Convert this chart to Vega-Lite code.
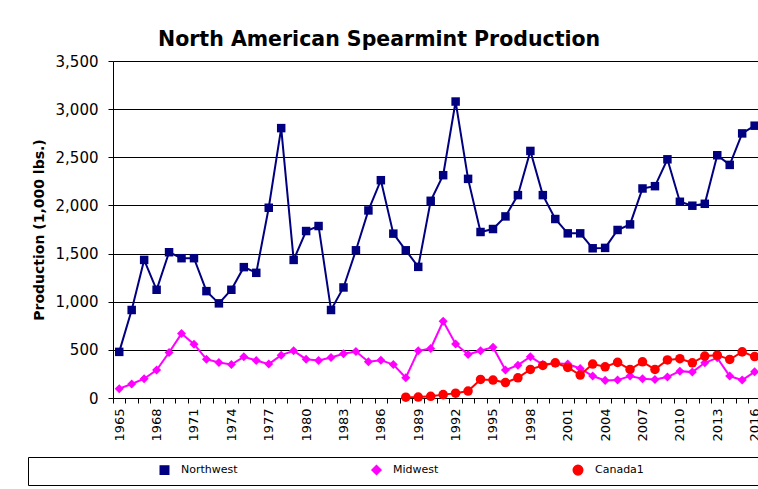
{
  "$schema": "https://vega.github.io/schema/vega-lite/v6.json",
  "autosize": "none",
  "width": 645,
  "height": 337,
  "padding": {"left": 113, "top": 61, "right": 0, "bottom": 91},
  "background": "white",
  "config": {
    "view": {"stroke": null},
    "font": "DejaVu Sans"
  },
  "title": {
    "text": "North American Spearmint Production",
    "font": "DejaVu Sans",
    "fontSize": 20.5,
    "fontWeight": "bold",
    "color": "black",
    "anchor": "start",
    "frame": "group",
    "dx": 45,
    "baseline": "alphabetic",
    "offset": -12
  },
  "data": {
    "values": [
      {"year": 1965, "series": "Northwest", "value": 479},
      {"year": 1966, "series": "Northwest", "value": 914},
      {"year": 1967, "series": "Northwest", "value": 1434},
      {"year": 1968, "series": "Northwest", "value": 1124},
      {"year": 1969, "series": "Northwest", "value": 1514},
      {"year": 1970, "series": "Northwest", "value": 1452},
      {"year": 1971, "series": "Northwest", "value": 1452},
      {"year": 1972, "series": "Northwest", "value": 1110},
      {"year": 1973, "series": "Northwest", "value": 983},
      {"year": 1974, "series": "Northwest", "value": 1124},
      {"year": 1975, "series": "Northwest", "value": 1359},
      {"year": 1976, "series": "Northwest", "value": 1300},
      {"year": 1977, "series": "Northwest", "value": 1976},
      {"year": 1978, "series": "Northwest", "value": 2803},
      {"year": 1979, "series": "Northwest", "value": 1434},
      {"year": 1980, "series": "Northwest", "value": 1734},
      {"year": 1981, "series": "Northwest", "value": 1786},
      {"year": 1982, "series": "Northwest", "value": 914},
      {"year": 1983, "series": "Northwest", "value": 1148},
      {"year": 1984, "series": "Northwest", "value": 1534},
      {"year": 1985, "series": "Northwest", "value": 1948},
      {"year": 1986, "series": "Northwest", "value": 2262},
      {"year": 1987, "series": "Northwest", "value": 1707},
      {"year": 1988, "series": "Northwest", "value": 1534},
      {"year": 1989, "series": "Northwest", "value": 1362},
      {"year": 1990, "series": "Northwest", "value": 2048},
      {"year": 1991, "series": "Northwest", "value": 2314},
      {"year": 1992, "series": "Northwest", "value": 3079},
      {"year": 1993, "series": "Northwest", "value": 2276},
      {"year": 1994, "series": "Northwest", "value": 1724},
      {"year": 1995, "series": "Northwest", "value": 1755},
      {"year": 1996, "series": "Northwest", "value": 1886},
      {"year": 1997, "series": "Northwest", "value": 2107},
      {"year": 1998, "series": "Northwest", "value": 2566},
      {"year": 1999, "series": "Northwest", "value": 2107},
      {"year": 2000, "series": "Northwest", "value": 1859},
      {"year": 2001, "series": "Northwest", "value": 1710},
      {"year": 2002, "series": "Northwest", "value": 1710},
      {"year": 2003, "series": "Northwest", "value": 1555},
      {"year": 2004, "series": "Northwest", "value": 1559},
      {"year": 2005, "series": "Northwest", "value": 1745},
      {"year": 2006, "series": "Northwest", "value": 1803},
      {"year": 2007, "series": "Northwest", "value": 2176},
      {"year": 2008, "series": "Northwest", "value": 2200},
      {"year": 2009, "series": "Northwest", "value": 2479},
      {"year": 2010, "series": "Northwest", "value": 2038},
      {"year": 2011, "series": "Northwest", "value": 1997},
      {"year": 2012, "series": "Northwest", "value": 2017},
      {"year": 2013, "series": "Northwest", "value": 2521},
      {"year": 2014, "series": "Northwest", "value": 2421},
      {"year": 2015, "series": "Northwest", "value": 2748},
      {"year": 2016, "series": "Northwest", "value": 2828},
      {"year": 1965, "series": "Midwest", "value": 97},
      {"year": 1966, "series": "Midwest", "value": 145},
      {"year": 1967, "series": "Midwest", "value": 200},
      {"year": 1968, "series": "Midwest", "value": 290},
      {"year": 1969, "series": "Midwest", "value": 472},
      {"year": 1970, "series": "Midwest", "value": 669},
      {"year": 1971, "series": "Midwest", "value": 559},
      {"year": 1972, "series": "Midwest", "value": 403},
      {"year": 1973, "series": "Midwest", "value": 369},
      {"year": 1974, "series": "Midwest", "value": 348},
      {"year": 1975, "series": "Midwest", "value": 428},
      {"year": 1976, "series": "Midwest", "value": 390},
      {"year": 1977, "series": "Midwest", "value": 352},
      {"year": 1978, "series": "Midwest", "value": 445},
      {"year": 1979, "series": "Midwest", "value": 490},
      {"year": 1980, "series": "Midwest", "value": 403},
      {"year": 1981, "series": "Midwest", "value": 390},
      {"year": 1982, "series": "Midwest", "value": 421},
      {"year": 1983, "series": "Midwest", "value": 459},
      {"year": 1984, "series": "Midwest", "value": 483},
      {"year": 1985, "series": "Midwest", "value": 376},
      {"year": 1986, "series": "Midwest", "value": 393},
      {"year": 1987, "series": "Midwest", "value": 348},
      {"year": 1988, "series": "Midwest", "value": 210},
      {"year": 1989, "series": "Midwest", "value": 490},
      {"year": 1990, "series": "Midwest", "value": 514},
      {"year": 1991, "series": "Midwest", "value": 797},
      {"year": 1992, "series": "Midwest", "value": 562},
      {"year": 1993, "series": "Midwest", "value": 452},
      {"year": 1994, "series": "Midwest", "value": 490},
      {"year": 1995, "series": "Midwest", "value": 528},
      {"year": 1996, "series": "Midwest", "value": 290},
      {"year": 1997, "series": "Midwest", "value": 341},
      {"year": 1998, "series": "Midwest", "value": 428},
      {"year": 1999, "series": "Midwest", "value": 348},
      {"year": 2000, "series": "Midwest", "value": 360},
      {"year": 2001, "series": "Midwest", "value": 352},
      {"year": 2002, "series": "Midwest", "value": 307},
      {"year": 2003, "series": "Midwest", "value": 228},
      {"year": 2004, "series": "Midwest", "value": 183},
      {"year": 2005, "series": "Midwest", "value": 186},
      {"year": 2006, "series": "Midwest", "value": 228},
      {"year": 2007, "series": "Midwest", "value": 200},
      {"year": 2008, "series": "Midwest", "value": 193},
      {"year": 2009, "series": "Midwest", "value": 217},
      {"year": 2010, "series": "Midwest", "value": 279},
      {"year": 2011, "series": "Midwest", "value": 269},
      {"year": 2012, "series": "Midwest", "value": 366},
      {"year": 2013, "series": "Midwest", "value": 417},
      {"year": 2014, "series": "Midwest", "value": 228},
      {"year": 2015, "series": "Midwest", "value": 186},
      {"year": 2016, "series": "Midwest", "value": 272},
      {"year": 1988, "series": "Canada1", "value": 8},
      {"year": 1989, "series": "Canada1", "value": 10},
      {"year": 1990, "series": "Canada1", "value": 18},
      {"year": 1991, "series": "Canada1", "value": 35},
      {"year": 1992, "series": "Canada1", "value": 50},
      {"year": 1993, "series": "Canada1", "value": 72},
      {"year": 1994, "series": "Canada1", "value": 193},
      {"year": 1995, "series": "Canada1", "value": 186},
      {"year": 1996, "series": "Canada1", "value": 160},
      {"year": 1997, "series": "Canada1", "value": 210},
      {"year": 1998, "series": "Canada1", "value": 297},
      {"year": 1999, "series": "Canada1", "value": 338},
      {"year": 2000, "series": "Canada1", "value": 366},
      {"year": 2001, "series": "Canada1", "value": 317},
      {"year": 2002, "series": "Canada1", "value": 238},
      {"year": 2003, "series": "Canada1", "value": 352},
      {"year": 2004, "series": "Canada1", "value": 324},
      {"year": 2005, "series": "Canada1", "value": 370},
      {"year": 2006, "series": "Canada1", "value": 297},
      {"year": 2007, "series": "Canada1", "value": 376},
      {"year": 2008, "series": "Canada1", "value": 297},
      {"year": 2009, "series": "Canada1", "value": 395},
      {"year": 2010, "series": "Canada1", "value": 408},
      {"year": 2011, "series": "Canada1", "value": 366},
      {"year": 2012, "series": "Canada1", "value": 436},
      {"year": 2013, "series": "Canada1", "value": 445},
      {"year": 2014, "series": "Canada1", "value": 400},
      {"year": 2015, "series": "Canada1", "value": 479},
      {"year": 2016, "series": "Canada1", "value": 430}
    ]
  },
  "encoding": {
    "x": {
      "field": "year",
      "type": "quantitative",
      "scale": {"domain": [1964.5, 2016.27], "nice": false, "zero": false},
      "axis": {
        "title": null,
        "values": [1965,1966,1967,1968,1969,1970,1971,1972,1973,1974,1975,1976,1977,1978,1979,1980,1981,1982,1983,1984,1985,1986,1987,1988,1989,1990,1991,1992,1993,1994,1995,1996,1997,1998,1999,2000,2001,2002,2003,2004,2005,2006,2007,2008,2009,2010,2011,2012,2013,2014,2015,2016],
        "labelExpr": "(datum.value - 1965) % 3 == 0 ? '' + datum.value : ''",
        "labelAngle": -90,
        "labelFont": "DejaVu Sans",
        "labelFontSize": 13,
        "labelColor": "black",
        "labelPadding": 5,
        "labelOverlap": false,
        "labelFlush": false,
        "labelBound": false,
        "tickOffset": -6.23,
        "labelOffset": 6.23,
        "tickSize": 5,
        "tickColor": "black",
        "domainColor": "black",
        "grid": false
      }
    },
    "y": {
      "field": "value",
      "type": "quantitative",
      "scale": {"domain": [0, 3500], "nice": false},
      "axis": {
        "title": "Production (1,000 lbs.)",
        "titleFont": "DejaVu Sans",
        "titleFontSize": 14,
        "titleFontWeight": "bold",
        "titleColor": "black",
        "titlePadding": 9,
        "values": [0, 500, 1000, 1500, 2000, 2500, 3000, 3500],
        "format": ",d",
        "labelFont": "DejaVu Sans",
        "labelFontSize": 15,
        "labelColor": "black",
        "labelPadding": 10,
        "tickSize": 5,
        "tickColor": "black",
        "domainColor": "black",
        "grid": true,
        "gridColor": "black",
        "gridWidth": 1
      }
    },
    "color": {
      "field": "series",
      "type": "nominal",
      "scale": {"domain": ["Northwest", "Midwest", "Canada1", "zz"], "range": ["#000080", "#FF00FF", "#FF0000", "#FFFFFF"]},
      "legend": {
        "title": "\u00a0",
        "titleOrient": "left",
        "titlePadding": 104,
        "titleFontSize": 11,
        "orient": "none",
        "legendX": -85,
        "legendY": 396,
        "direction": "horizontal",
        "padding": 7,
        "columnPadding": 113,
        "strokeColor": "black",
        "fillColor": "white",
        "labelFont": "DejaVu Sans",
        "labelFontSize": 11,
        "labelColor": "black",
        "labelLimit": 400,
        "labelOffset": 11,
        "symbolSize": 196,
        "symbolOffset": 20,
        "labelExpr": "datum.label == 'zz' ? '' : datum.label"
      }
    }
  },
  "layer": [
    {
      "mark": {"type": "line", "strokeWidth": 2}
    },
    {
      "mark": {"type": "point", "filled": true, "opacity": 1},
      "encoding": {
        "shape": {
          "field": "series",
          "type": "nominal",
          "scale": {"domain": ["Northwest", "Midwest", "Canada1", "zz"], "range": ["square", "diamond", "circle", "circle"]},
          "legend": null
        },
        "size": {
          "field": "series",
          "type": "nominal",
          "scale": {"domain": ["Northwest", "Midwest", "Canada1", "zz"], "range": [72, 100, 144, 10]},
          "legend": null
        }
      }
    }
  ]
}
